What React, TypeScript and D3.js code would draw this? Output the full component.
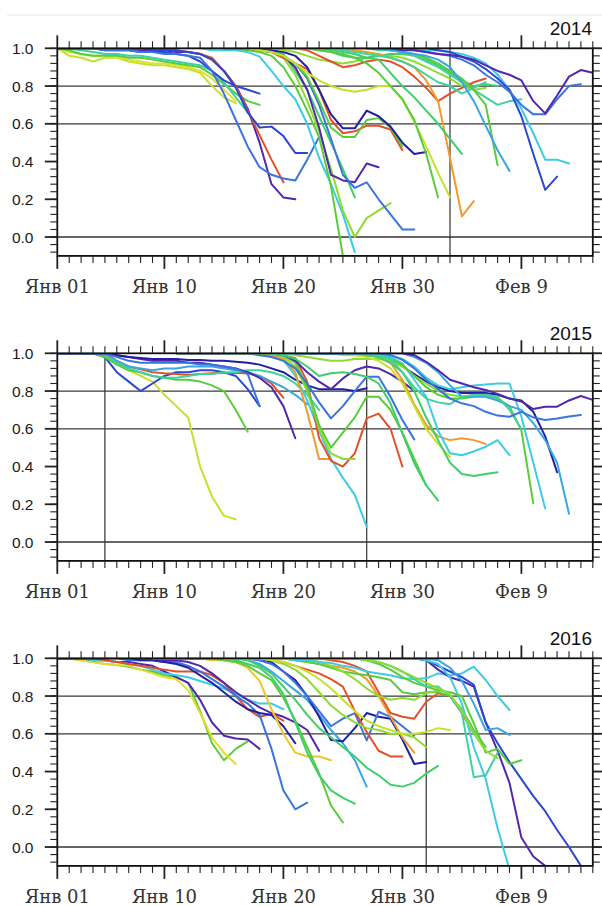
import React from 'react';
import * as d3 from 'd3';

type Series = { c: number; s: number; v: number[] };

// ---- axis / label data ----
const DAY_TICKS = [0, 9, 19, 29, 39];
const DAY_LABELS = ['Янв 01', 'Янв 10', 'Янв 20', 'Янв 30', 'Фев 9'];
const Y_TICKS = [0, 0.2, 0.4, 0.6, 0.8, 1.0];
const Y_GRID = [0.8, 0.6, 0.0];
const YEARS = ['2014', '2015', '2016'];
const MARK_DAYS = [[33], [4, 26], [31]];

// colour index -> colour (rainbow ramp)
const PALETTE = [
  '#22209e', '#5227ad', '#2a47d6', '#3a74df', '#38a6e5', '#3ecbe4', '#3fd1a0',
  '#3fcf6a', '#58cd3a', '#8edb32', '#c4e22c', '#e4dd2c', '#f09a2c', '#e2522a', '#eec52c',
];

// ---- series (start day, daily values) ----
const SERIES_2014: Series[] = [
  { c: 10, s: 0, v: [1, 0.96, 0.95, 0.93, 0.95, 0.95, 0.93, 0.92, 0.91, 0.91, 0.9, 0.89, 0.87, 0.8, 0.74, 0.71] },
  { c: 11, s: 0, v: [1, 0.98, 0.97, 0.96, 0.96, 0.95, 0.94, 0.93, 0.92, 0.92, 0.91, 0.9, 0.88, 0.84, 0.78, 0.72] },
  { c: 8, s: 0, v: [1, 0.99, 0.97, 0.96, 0.96, 0.96, 0.95, 0.95, 0.94, 0.93, 0.92, 0.91, 0.9, 0.86, 0.81, 0.76, 0.72, 0.7] },
  { c: 6, s: 0, v: [1, 1, 0.99, 0.98, 0.97, 0.97, 0.96, 0.96, 0.95, 0.94, 0.93, 0.92, 0.91, 0.88, 0.82, 0.74, 0.66, 0.58] },
  { c: 2, s: 0, v: [1, 1, 1, 1, 0.99, 0.99, 0.99, 0.98, 0.98, 0.98, 0.97, 0.96, 0.93, 0.88, 0.83, 0.8, 0.78, 0.76] },
  { c: 1, s: 0, v: [1, 1, 1, 1, 1, 1, 1, 0.99, 0.99, 0.99, 0.98, 0.98, 0.97, 0.94, 0.88, 0.8, 0.68, 0.5, 0.28, 0.21, 0.2] },
  { c: 13, s: 0, v: [1, 1, 1, 1, 1, 1, 1, 1, 1, 0.99, 0.99, 0.98, 0.97, 0.95, 0.88, 0.8, 0.67, 0.54, 0.41, 0.29] },
  { c: 3, s: 0, v: [1, 1, 1, 1, 0.99, 0.99, 0.99, 0.98, 0.98, 0.97, 0.97, 0.96, 0.95, 0.88, 0.76, 0.62, 0.48, 0.37, 0.33, 0.31, 0.3, 0.41, 0.53] },
  { c: 2, s: 0, v: [1, 1, 1, 1, 1, 1, 1, 1, 0.99, 0.99, 0.99, 0.98, 0.97, 0.94, 0.88, 0.79, 0.66, 0.58, 0.585, 0.535, 0.445, 0.445] },
  { c: 5, s: 10, v: [1, 1, 1, 0.99, 0.99, 0.99, 0.98, 0.956, 0.88, 0.8, 0.73, 0.6, 0.42, 0.28, 0.12, -0.08] },
  { c: 8, s: 14, v: [1, 1, 0.99, 0.98, 0.96, 0.9, 0.8, 0.67, 0.53, 0.27, -0.1] },
  { c: 9, s: 14, v: [1, 1, 1, 0.99, 0.98, 0.95, 0.86, 0.72, 0.56, 0.36, 0.14, 0.0, 0.1, 0.14, 0.18] },
  { c: 7, s: 14, v: [1, 1, 1, 1, 0.99, 0.97, 0.88, 0.78, 0.64, 0.5, 0.36, 0.21] },
  { c: 1, s: 14, v: [1, 1, 1, 0.99, 0.98, 0.96, 0.9, 0.78, 0.58, 0.33, 0.3, 0.29, 0.39, 0.37] },
  { c: 3, s: 14, v: [1, 1, 1, 0.99, 0.98, 0.96, 0.92, 0.84, 0.7, 0.52, 0.33, 0.26, 0.29, 0.2, 0.12, 0.04, 0.04] },
  { c: 13, s: 14, v: [1, 1, 1, 0.99, 0.98, 0.95, 0.92, 0.89, 0.78, 0.62, 0.55, 0.56, 0.59, 0.59, 0.57, 0.46] },
  { c: 8, s: 14, v: [1, 1, 1, 0.99, 0.98, 0.96, 0.92, 0.85, 0.72, 0.58, 0.53, 0.53, 0.62, 0.63, 0.58, 0.48] },
  { c: 0, s: 14, v: [1, 1, 1, 1, 0.99, 0.98, 0.96, 0.9, 0.78, 0.65, 0.576, 0.576, 0.67, 0.64, 0.585, 0.5, 0.44, 0.45] },
  { c: 10, s: 14, v: [1, 1, 1, 0.99, 0.98, 0.96, 0.92, 0.87, 0.83, 0.8, 0.78, 0.77, 0.78, 0.8, 0.8, 0.73, 0.61, 0.48, 0.34, 0.21] },
  { c: 9, s: 14, v: [1, 1, 1, 1, 1, 0.99, 0.98, 0.96, 0.94, 0.93, 0.92, 0.93, 0.95, 0.96, 0.96, 0.95, 0.93, 0.9, 0.87, 0.84, 0.8, 0.78, 0.79] },
  { c: 7, s: 18, v: [1, 1, 1, 1, 0.99, 0.98, 0.96, 0.95, 0.95, 0.96, 0.97, 0.97, 0.96, 0.94, 0.91, 0.87, 0.83, 0.8, 0.81, 0.8] },
  { c: 13, s: 19, v: [1, 1, 0.99, 0.96, 0.93, 0.9, 0.91, 0.93, 0.94, 0.93, 0.9, 0.85, 0.79, 0.72, 0.76, 0.79, 0.82, 0.84] },
  { c: 12, s: 22, v: [1, 1, 1, 0.99, 0.98, 0.97, 0.95, 0.93, 0.9, 0.83, 0.72, 0.42, 0.11, 0.19] },
  { c: 8, s: 20, v: [1, 1, 0.99, 0.98, 0.97, 0.95, 0.92, 0.87, 0.8, 0.73, 0.62, 0.44, 0.21] },
  { c: 7, s: 20, v: [1, 1, 1, 0.99, 0.98, 0.97, 0.95, 0.94, 0.87, 0.8, 0.74, 0.67, 0.6, 0.52, 0.44] },
  { c: 6, s: 20, v: [1, 1, 1, 1, 0.99, 0.98, 0.97, 0.96, 0.95, 0.93, 0.9, 0.86, 0.82, 0.8, 0.76, 0.79, 0.82] },
  { c: 6, s: 25, v: [1, 1, 0.99, 0.99, 0.98, 0.96, 0.93, 0.9, 0.86, 0.82, 0.78, 0.74, 0.7, 0.72, 0.73] },
  { c: 8, s: 24, v: [1, 1, 1, 1, 0.99, 0.98, 0.97, 0.95, 0.92, 0.88, 0.84, 0.78, 0.7, 0.38] },
  { c: 4, s: 24, v: [1, 1, 1, 1, 0.99, 0.98, 0.97, 0.96, 0.94, 0.9, 0.82, 0.72, 0.59, 0.46, 0.35] },
  { c: 5, s: 26, v: [1, 1, 1, 1, 1, 0.99, 0.99, 0.98, 0.97, 0.95, 0.92, 0.86, 0.78, 0.68, 0.55, 0.41, 0.41, 0.39] },
  { c: 2, s: 26, v: [1, 1, 1, 1, 1, 1, 0.99, 0.98, 0.955, 0.93, 0.89, 0.84, 0.78, 0.64, 0.44, 0.25, 0.32] },
  { c: 3, s: 26, v: [1, 1, 1, 1, 0.99, 0.98, 0.97, 0.96, 0.94, 0.91, 0.86, 0.82, 0.77, 0.7, 0.65, 0.65, 0.73, 0.8, 0.81] },
  { c: 1, s: 26, v: [1, 1, 1, 0.99, 0.99, 0.98, 0.97, 0.965, 0.955, 0.94, 0.91, 0.88, 0.86, 0.83, 0.72, 0.655, 0.75, 0.85, 0.885, 0.87] },
];

const SERIES_2015: Series[] = [
  { c: 10, s: 0, v: [1, 1, 1, 1, 0.98, 0.95, 0.91, 0.88, 0.85, 0.78, 0.72, 0.66, 0.4, 0.24, 0.14, 0.12] },
  { c: 2, s: 0, v: [1, 1, 1, 1, 0.98, 0.9, 0.85, 0.8, 0.84, 0.88, 0.9, 0.9, 0.91, 0.91, 0.9, 0.88, 0.81, 0.72] },
  { c: 8, s: 0, v: [1, 1, 1, 1, 0.98, 0.94, 0.91, 0.9, 0.88, 0.87, 0.86, 0.86, 0.85, 0.83, 0.8, 0.7, 0.585] },
  { c: 13, s: 0, v: [1, 1, 1, 1, 1, 0.96, 0.93, 0.915, 0.9, 0.894, 0.89, 0.885, 0.89, 0.894, 0.896, 0.896, 0.894, 0.88, 0.84, 0.765] },
  { c: 4, s: 0, v: [1, 1, 1, 1, 0.99, 0.96, 0.93, 0.92, 0.91, 0.92, 0.92, 0.93, 0.93, 0.93, 0.92, 0.91, 0.9, 0.88, 0.85, 0.82, 0.78, 0.73] },
  { c: 6, s: 0, v: [1, 1, 1, 1, 0.99, 0.95, 0.92, 0.9, 0.88, 0.87, 0.87, 0.88, 0.89, 0.89, 0.9, 0.9, 0.91, 0.91, 0.9, 0.88, 0.84, 0.78, 0.7] },
  { c: 1, s: 0, v: [1, 1, 1, 1, 1, 0.99, 0.98, 0.97, 0.96, 0.96, 0.96, 0.95, 0.95, 0.94, 0.93, 0.92, 0.9, 0.87, 0.82, 0.72, 0.55] },
  { c: 0, s: 0, v: [1, 1, 1, 1, 1, 0.99, 0.98, 0.975, 0.97, 0.97, 0.97, 0.965, 0.965, 0.96, 0.96, 0.955, 0.95, 0.94, 0.92, 0.9, 0.86, 0.83, 0.81, 0.81, 0.81, 0.8, 0.815] },
  { c: 3, s: 0, v: [1, 1, 1, 1, 1, 0.98, 0.96, 0.95, 0.95, 0.95, 0.95, 0.95, 0.94, 0.94, 0.93, 0.92, 0.89, 0.72] },
  { c: 5, s: 10, v: [1, 1, 1, 1, 1, 1, 1, 1, 0.99, 0.965, 0.88, 0.75, 0.59, 0.44, 0.34, 0.25, 0.08] },
  { c: 12, s: 10, v: [1, 1, 1, 1, 1, 1, 1, 1, 0.99, 0.97, 0.9, 0.69, 0.44, 0.44] },
  { c: 13, s: 10, v: [1, 1, 1, 1, 1, 1, 1, 1, 1, 0.99, 0.974, 0.85, 0.55, 0.43, 0.4, 0.47, 0.655, 0.68, 0.6, 0.4] },
  { c: 9, s: 10, v: [1, 1, 1, 1, 1, 1, 1, 1, 1, 0.98, 0.93, 0.8, 0.6, 0.47, 0.44, 0.44] },
  { c: 8, s: 10, v: [1, 1, 1, 1, 1, 1, 1, 1, 1, 0.99, 0.95, 0.82, 0.62, 0.5, 0.58, 0.66, 0.77, 0.77, 0.7, 0.58, 0.44, 0.3] },
  { c: 3, s: 10, v: [1, 1, 1, 1, 1, 1, 1, 0.99, 0.98, 0.96, 0.92, 0.84, 0.74, 0.655, 0.72, 0.8, 0.876, 0.876, 0.77, 0.647, 0.544] },
  { c: 1, s: 10, v: [1, 1, 1, 1, 1, 1, 1, 1, 1, 0.99, 0.96, 0.9, 0.85, 0.81, 0.867, 0.91, 0.93, 0.92, 0.89, 0.85, 0.8] },
  { c: 0, s: 20, v: [1, 1, 1, 1, 1, 1, 1, 0.99, 0.97, 0.93, 0.89, 0.85, 0.82, 0.8, 0.79, 0.79, 0.79, 0.78, 0.76, 0.75, 0.69, 0.56, 0.37] },
  { c: 7, s: 14, v: [1, 1, 1, 1, 1, 0.99, 0.97, 0.93, 0.88, 0.894, 0.9, 0.89, 0.876, 0.84, 0.735, 0.576, 0.417, 0.3, 0.22] },
  { c: 9, s: 16, v: [1, 1, 1, 1, 0.99, 0.98, 0.97, 0.96, 0.96, 0.97, 0.97, 0.97, 0.96, 0.93, 0.88, 0.84, 0.8, 0.78, 0.77] },
  { c: 12, s: 18, v: [1, 1, 1, 1, 1, 1, 1, 1, 0.99, 0.98, 0.95, 0.86, 0.73, 0.62, 0.56, 0.54, 0.55, 0.54, 0.52] },
  { c: 10, s: 18, v: [1, 1, 1, 1, 1, 1, 0.99, 0.99, 0.98, 0.96, 0.92, 0.84, 0.72, 0.6, 0.52, 0.45] },
  { c: 5, s: 18, v: [1, 1, 1, 1, 1, 1, 1, 1, 1, 0.99, 0.98, 0.947, 0.86, 0.77, 0.59, 0.47, 0.46, 0.48, 0.505, 0.54, 0.46] },
  { c: 7, s: 18, v: [1, 1, 1, 1, 1, 1, 1, 1, 0.99, 0.98, 0.95, 0.9, 0.8, 0.66, 0.54, 0.42, 0.36, 0.35, 0.36, 0.37] },
  { c: 8, s: 18, v: [1, 1, 1, 1, 1, 1, 1, 1, 1, 0.99, 0.97, 0.94, 0.88, 0.82, 0.78, 0.76, 0.76, 0.77, 0.78, 0.76, 0.72, 0.59, 0.205] },
  { c: 5, s: 18, v: [1, 1, 1, 1, 1, 1, 1, 1, 1, 1, 0.99, 0.97, 0.93, 0.87, 0.83, 0.81, 0.82, 0.83, 0.835, 0.84, 0.84, 0.664, 0.42, 0.178] },
  { c: 4, s: 18, v: [1, 1, 1, 1, 1, 1, 1, 1, 1, 1, 1, 1, 0.98, 0.95, 0.9, 0.83, 0.77, 0.77, 0.77, 0.75, 0.72, 0.7, 0.63, 0.54, 0.42, 0.15] },
  { c: 6, s: 20, v: [1, 1, 1, 1, 1, 1, 1, 0.99, 0.97, 0.9, 0.82, 0.76, 0.74, 0.73, 0.77, 0.78, 0.78, 0.77, 0.7, 0.6] },
  { c: 1, s: 20, v: [1, 1, 1, 1, 1, 1, 1, 1, 1, 1, 0.99, 0.955, 0.91, 0.86, 0.84, 0.82, 0.806, 0.785, 0.76, 0.745, 0.705, 0.717, 0.717, 0.75, 0.774, 0.753] },
  { c: 3, s: 20, v: [1, 1, 1, 1, 1, 1, 1, 1, 0.99, 0.965, 0.92, 0.86, 0.81, 0.76, 0.735, 0.72, 0.69, 0.67, 0.664, 0.69, 0.66, 0.647, 0.655, 0.665, 0.673] },
];

const SERIES_2016: Series[] = [
  { c: 8, s: 0, v: [1, 1, 0.99, 0.98, 0.97, 0.965, 0.955, 0.94, 0.93, 0.91, 0.9, 0.87, 0.72, 0.55, 0.46, 0.52, 0.56] },
  { c: 11, s: 0, v: [1, 1, 0.99, 0.98, 0.97, 0.965, 0.96, 0.94, 0.92, 0.9, 0.89, 0.83, 0.71, 0.58, 0.5, 0.44] },
  { c: 1, s: 0, v: [1, 1, 1, 0.99, 0.99, 0.98, 0.98, 0.97, 0.96, 0.93, 0.9, 0.87, 0.78, 0.66, 0.59, 0.575, 0.57, 0.52] },
  { c: 5, s: 0, v: [1, 1, 1, 0.99, 0.99, 0.98, 0.97, 0.96, 0.94, 0.92, 0.91, 0.9, 0.88, 0.86, 0.84, 0.81, 0.78, 0.76, 0.76, 0.73] },
  { c: 13, s: 0, v: [1, 1, 1, 1, 0.99, 0.98, 0.97, 0.96, 0.95, 0.94, 0.93, 0.93, 0.93, 0.91, 0.87, 0.8, 0.73, 0.69, 0.705, 0.67] },
  { c: 3, s: 0, v: [1, 1, 1, 1, 1, 1, 0.99, 0.99, 0.99, 0.98, 0.98, 0.96, 0.93, 0.89, 0.85, 0.8, 0.76, 0.7, 0.52, 0.3, 0.2, 0.235] },
  { c: 0, s: 0, v: [1, 1, 1, 1, 1, 1, 1, 0.99, 0.99, 0.98, 0.97, 0.95, 0.91, 0.87, 0.82, 0.77, 0.73, 0.71, 0.7, 0.64, 0.55] },
  { c: 1, s: 0, v: [1, 1, 1, 1, 1, 1, 1, 1, 1, 0.99, 0.99, 0.98, 0.96, 0.92, 0.87, 0.82, 0.78, 0.74, 0.71, 0.69, 0.66, 0.62, 0.51] },
  { c: 14, s: 8, v: [1, 1, 1, 1, 1, 0.99, 0.99, 0.98, 0.95, 0.88, 0.73, 0.6, 0.5, 0.48, 0.48, 0.46] },
  { c: 8, s: 8, v: [1, 1, 1, 1, 1, 1, 0.99, 0.98, 0.96, 0.92, 0.885, 0.79, 0.67, 0.53, 0.39, 0.22, 0.13] },
  { c: 7, s: 8, v: [1, 1, 1, 1, 1, 1, 1, 0.99, 0.97, 0.95, 0.9, 0.81, 0.66, 0.5, 0.38, 0.3, 0.26, 0.23] },
  { c: 4, s: 8, v: [1, 1, 1, 1, 1, 1, 1, 1, 0.99, 0.97, 0.93, 0.88, 0.83, 0.78, 0.7, 0.62, 0.55, 0.46, 0.32] },
  { c: 0, s: 8, v: [1, 1, 1, 1, 1, 1, 1, 1, 1, 0.99, 0.98, 0.93, 0.885, 0.8, 0.69, 0.567, 0.56, 0.63, 0.71, 0.69, 0.68, 0.57, 0.44, 0.45] },
  { c: 3, s: 10, v: [1, 1, 1, 1, 1, 1, 1, 0.99, 0.97, 0.93, 0.87, 0.8, 0.72, 0.64, 0.68, 0.71, 0.565, 0.717, 0.69, 0.64, 0.59] },
  { c: 13, s: 10, v: [1, 1, 1, 1, 1, 1, 1, 1, 0.99, 0.98, 0.96, 0.94, 0.92, 0.89, 0.85, 0.72, 0.61, 0.51, 0.48, 0.48] },
  { c: 12, s: 12, v: [1, 1, 1, 1, 1, 1, 1, 1, 0.99, 0.98, 0.97, 0.96, 0.95, 0.93, 0.89, 0.8, 0.69, 0.58, 0.5] },
  { c: 13, s: 14, v: [1, 1, 1, 1, 1, 1, 1, 1, 1, 0.99, 0.98, 0.96, 0.93, 0.82, 0.71, 0.69, 0.68, 0.77, 0.815, 0.8, 0.71, 0.6] },
  { c: 8, s: 14, v: [1, 1, 1, 1, 1, 1, 0.99, 0.98, 0.97, 0.95, 0.93, 0.92, 0.91, 0.9, 0.885, 0.82, 0.81, 0.82, 0.82, 0.8, 0.73, 0.62, 0.53] },
  { c: 9, s: 14, v: [1, 1, 1, 1, 1, 1, 1, 1, 0.98, 0.96, 0.93, 0.89, 0.84, 0.8, 0.78, 0.79, 0.78, 0.814, 0.83] },
  { c: 5, s: 14, v: [1, 1, 1, 1, 1, 1, 0.99, 0.99, 0.98, 0.975, 0.96, 0.95, 0.93, 0.92, 0.91, 0.894, 0.89, 0.894, 0.92, 0.91, 0.92, 0.956, 0.885, 0.8, 0.726] },
  { c: 7, s: 14, v: [1, 1, 0.99, 0.96, 0.92, 0.85, 0.78, 0.7, 0.63, 0.58, 0.53, 0.48, 0.42, 0.38, 0.33, 0.32, 0.34, 0.39, 0.43] },
  { c: 9, s: 14, v: [1, 1, 1, 1, 0.99, 0.97, 0.94, 0.89, 0.82, 0.75, 0.7, 0.66, 0.63, 0.62, 0.6, 0.6, 0.58, 0.53] },
  { c: 10, s: 16, v: [1, 1, 0.99, 0.98, 0.96, 0.93, 0.89, 0.84, 0.78, 0.72, 0.67, 0.64, 0.62, 0.6, 0.6, 0.61, 0.63, 0.62] },
  { c: 1, s: 20, v: [1, 1, 1, 1, 1, 1, 1, 1, 1, 1, 1, 0.99, 0.94, 0.9, 0.88, 0.85, 0.66, 0.51, 0.34, 0.05, -0.05, -0.1] },
  { c: 2, s: 20, v: [1, 1, 1, 1, 1, 1, 1, 1, 1, 1, 1, 0.99, 0.96, 0.93, 0.9, 0.86, 0.66, 0.55, 0.45, 0.36, 0.27, 0.19, 0.09, 0.0, -0.1] },
  { c: 5, s: 20, v: [1, 1, 1, 1, 1, 1, 1, 1, 1, 1, 1, 0.99, 0.97, 0.9, 0.76, 0.53, 0.36, 0.1, -0.12] },
  { c: 4, s: 20, v: [1, 1, 1, 1, 1, 1, 1, 1, 1, 1, 1, 1, 0.99, 0.95, 0.88, 0.76, 0.62, 0.63, 0.594] },
  { c: 8, s: 20, v: [1, 1, 1, 1, 1, 1, 0.99, 0.97, 0.94, 0.9, 0.87, 0.85, 0.83, 0.82, 0.8, 0.655, 0.5, 0.52, 0.44, 0.46] },
  { c: 6, s: 20, v: [1, 1, 1, 1, 1, 1, 0.99, 0.98, 0.96, 0.93, 0.89, 0.85, 0.85, 0.8, 0.71, 0.37, 0.38, 0.5] },
  { c: 9, s: 20, v: [1, 1, 1, 1, 1, 1, 0.99, 0.98, 0.96, 0.93, 0.9, 0.87, 0.84, 0.81, 0.72, 0.6, 0.51, 0.47] },
];

const ALL_SERIES = [SERIES_2014, SERIES_2015, SERIES_2016];

// ---- layout ----
const W = 602;
const H = 906;
const X_LEFT = 57.3;
const X_RIGHT = 592.8;
const TOP0 = 48.3;
const PANEL_STEP = 305;
const PLOT_H = 207.6;
const DAY_MAX = 45;

const SANS = '"Liberation Sans", Arial, Helvetica, sans-serif';
const SERIF = '"DejaVu Serif", "Liberation Serif", serif';

function Panel({ k }: { k: number }) {
  const top = TOP0 + PANEL_STEP * k;
  const bottom = top + PLOT_H;
  const x = d3.scaleLinear().domain([0, DAY_MAX]).range([X_LEFT, X_RIGHT]);
  const y = d3.scaleLinear().domain([-0.1, 1.0]).range([bottom, top]);
  const line = d3
    .line<[number, number]>()
    .x((d) => x(d[0]))
    .y((d) => y(d[1]));
  const minorDays = d3.range(0, DAY_MAX + 1);
  const minorY = d3.range(-0.08, 1.0001, 0.04);
  const clipId = `clip-${k}`;
  const series = ALL_SERIES[k];
  return (
    <g>
      <defs>
        <clipPath id={clipId}>
          <rect x={X_LEFT} y={top} width={X_RIGHT - X_LEFT} height={PLOT_H} />
        </clipPath>
      </defs>
      {Y_GRID.map((g) => (
        <line
          key={'g' + g}
          x1={X_LEFT}
          x2={X_RIGHT}
          y1={y(g)}
          y2={y(g)}
          stroke={g === 0 ? '#333' : '#3a3a3a'}
          strokeWidth={g === 0 ? 1.6 : 1.3}
        />
      ))}
      {MARK_DAYS[k].map((d) => (
        <line key={'m' + d} x1={x(d)} x2={x(d)} y1={top} y2={bottom} stroke="#333" strokeWidth={1.2} />
      ))}
      <g clipPath={`url(#${clipId})`}>
        {series.map((s, i) => (
          <path
            key={i}
            d={line(s.v.map((val, j) => [s.s + j, val] as [number, number])) || ''}
            fill="none"
            stroke={PALETTE[s.c]}
            strokeWidth={2}
            strokeLinejoin="round"
            strokeLinecap="round"
          />
        ))}
      </g>
      <rect x={X_LEFT} y={top} width={X_RIGHT - X_LEFT} height={PLOT_H} fill="none" stroke="#111" strokeWidth={1.8} />
      {minorDays.map((d) => {
        const major = DAY_TICKS.includes(d);
        const len = major ? 13 : 7;
        return (
          <g key={'xt' + d}>
            <line x1={x(d)} x2={x(d)} y1={top} y2={top - len} stroke="#222" strokeWidth={major ? 1.8 : 1.1} />
            <line x1={x(d)} x2={x(d)} y1={bottom} y2={bottom + len} stroke="#222" strokeWidth={major ? 1.8 : 1.1} />
          </g>
        );
      })}
      {minorY.map((v) => (
        <g key={'ym' + v.toFixed(2)}>
          <line x1={X_LEFT} x2={X_LEFT - 7} y1={y(v)} y2={y(v)} stroke="#222" strokeWidth={1.1} />
          <line x1={X_RIGHT} x2={X_RIGHT + 7} y1={y(v)} y2={y(v)} stroke="#222" strokeWidth={1.1} />
        </g>
      ))}
      {Y_TICKS.map((v) => (
        <g key={'yM' + v}>
          <line x1={X_LEFT} x2={X_LEFT - 12.5} y1={y(v)} y2={y(v)} stroke="#222" strokeWidth={1.8} />
          <line x1={X_RIGHT} x2={X_RIGHT + 12.5} y1={y(v)} y2={y(v)} stroke="#222" strokeWidth={1.8} />
          <text x={33.5} y={y(v)} dy="0.36em" textAnchor="end" fontFamily={SANS} fontSize={15.5} fill="#1a1a1a">
            {d3.format('.1f')(v)}
          </text>
        </g>
      ))}
      {DAY_TICKS.map((d, i) => (
        <text key={'xl' + d} x={x(d)} y={bottom + 37} textAnchor="middle" fontFamily={SERIF} fontSize={18} fill="#333">
          {DAY_LABELS[i]}
        </text>
      ))}
      <text x={592} y={top - 13.3} textAnchor="end" fontFamily={SANS} fontSize={19} fill="#111">
        {YEARS[k]}
      </text>
    </g>
  );
}

export default function App() {
  return (
    <svg
      width={W}
      height={H}
      viewBox={`0 0 ${W} ${H}`}
      style={{ position: 'absolute', left: 0, top: 0, background: '#fff' }}
    >
      <rect x={0} y={0} width={W} height={H} fill="#fff" />
      <line x1={7} x2={W} y1={15} y2={15} stroke="#e6e6e6" strokeWidth={1} />
      {[0, 1, 2].map((k) => (
        <Panel key={k} k={k} />
      ))}
    </svg>
  );
}
